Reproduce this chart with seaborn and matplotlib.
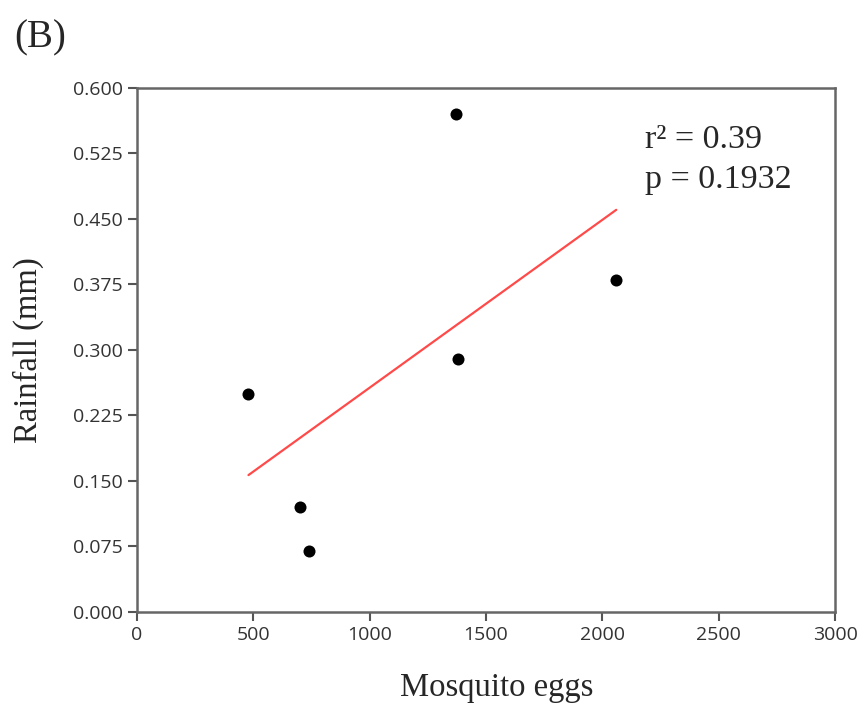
import matplotlib
matplotlib.use("Agg")
import matplotlib.pyplot as plt
import seaborn as sns
import pandas as pd

# Values
mosquito_eggs = [480, 700, 740, 1370, 1380, 2060]
rainfall_mm = [0.25, 0.12, 0.07, 0.57, 0.29, 0.38]
x_ticks = [0, 500, 1000, 1500, 2000, 2500, 3000]
y_ticks = [0.000, 0.075, 0.150, 0.225, 0.300, 0.375, 0.450, 0.525, 0.600]

df = pd.DataFrame({"eggs": mosquito_eggs, "rain": rainfall_mm})

sns.set_style("white")
serif = ["Liberation Serif", "DejaVu Serif"]
plt.rcParams["font.family"] = ["Open Sans", "DejaVu Sans"]

fig = plt.figure(figsize=(8.6, 7.09), dpi=100)
ax = fig.add_axes([0.159, 0.137, 0.812, 0.739])

sns.regplot(data=df, x="eggs", y="rain", ax=ax, ci=None, truncate=True,
            scatter_kws={"color": "black", "s": 75, "linewidths": 0,
                         "alpha": 1, "zorder": 3},
            line_kws={"color": "#ff4a4a", "lw": 1.6})

ax.set_xlim(0, 3000)
ax.set_ylim(0, 0.6)
ax.set_xticks(x_ticks)
ax.set_yticks(y_ticks)
ax.set_yticklabels([f"{v:.3f}" for v in y_ticks])
ax.tick_params(direction="out", length=6.5, width=1.5, color="#555555",
               labelsize=14, labelcolor="#333333", pad=3.5,
               bottom=True, left=True)
for s in ax.spines.values():
    s.set_color("#666666")
    s.set_linewidth(1.8)

ax.set_xlabel("Mosquito eggs", fontsize=23.5, family=serif, labelpad=25)
ax.set_ylabel("Rainfall (mm)", fontsize=23.5, family=serif, labelpad=21)
ax.xaxis.set_label_coords(0.515, -0.115)

ax.text(0.728, 0.93, "r² = 0.39\np = 0.1932", transform=ax.transAxes,
        fontsize=24.5, family=serif, va="top", ha="left", linespacing=1.38)

fig.text(0.017, 0.972, "(B)", fontsize=28, family=serif, va="top", ha="left")

fig.savefig("out.png", dpi=100)
